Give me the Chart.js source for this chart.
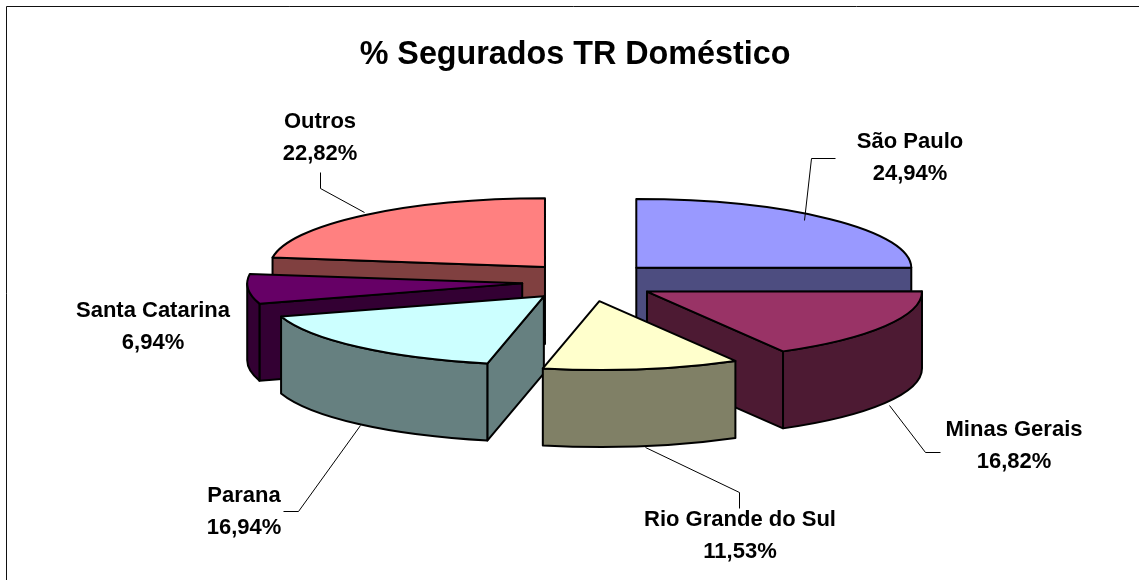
<!DOCTYPE html>
<html>
<head>
<meta charset="utf-8">
<style>
html,body{margin:0;padding:0;background:#fff;overflow:hidden}
#wrap{position:relative;width:1139px;height:580px}
</style>
<script src="https://cdn.jsdelivr.net/npm/chart.js@4"></script>
</head>
<body>
<div id="wrap"><canvas id="c" width="1139" height="580"></canvas></div>
<script>
const chartTitle = '% Segurados TR Doméstico';
const categories = ['São Paulo', 'Minas Gerais', 'Rio Grande do Sul', 'Parana', 'Santa Catarina', 'Outros'];
const shareValues = [24.94, 16.82, 11.53, 16.94, 6.94, 22.82];
const topColors = ['#9999FF', '#993366', '#FFFFCC', '#CCFFFF', '#660066', '#FF8080'];
const sideColors = ['#4D4D80', '#4D1A33', '#808066', '#668080', '#330033', '#804040'];

// Label annotation layout (pixels): text centre and leader polyline
const labelCentres = [[910, 158], [1014, 446], [740, 536], [244, 512], [153, 327], [320, 138]];
const leaderLines = [
  [[835, 158], [811, 158], [804, 220]],
  [[889, 405], [925, 452], [940, 452]],
  [[645, 447], [739, 492], [739, 508]],
  [[360, 425], [298, 511], [283, 511]],
  null,
  [[320, 172], [320, 188], [364, 212]]
];

const pieStyle = { radius: 275, squash: 0.25, explodeSquash: 0.293, depth: 77, explode: 67, shiftX: 14, edge: 2 };
const labelFont = 'bold 22px "Liberation Sans", Arial, sans-serif';

const pie3d = {
  id: 'pie3d',
  beforeDatasetDraw() { return false; },
  afterDatasetsDraw(chart) {
    const ctx = chart.ctx;
    const s = pieStyle;
    const arcs = chart.getDatasetMeta(0).data;
    const parts = arcs.map((el, i) => {
      const p = el.getProps(['x', 'y', 'startAngle', 'endAngle', 'outerRadius'], true);
      const mid = (p.startAngle + p.endAngle) / 2;
      return {
        i, a0: p.startAngle, a1: p.endAngle, r: p.outerRadius,
        cx: p.x + s.shiftX + s.explode * Math.cos(mid),
        cy: p.y + s.explode * Math.sin(mid) * s.explodeSquash
      };
    }).sort((a, b) => a.cy - b.cy);

    ctx.save();
    ctx.lineWidth = s.edge;
    ctx.lineJoin = 'round';
    ctx.strokeStyle = '#000';
    for (const q of parts) {
      const ry = q.r * s.squash;
      const rim = t => [q.cx + q.r * Math.cos(t), q.cy + ry * Math.sin(t)];
      ctx.fillStyle = sideColors[q.i];
      const face = t => {
        const [x, y] = rim(t);
        ctx.beginPath();
        ctx.moveTo(q.cx, q.cy);
        ctx.lineTo(x, y);
        ctx.lineTo(x, y + s.depth);
        ctx.lineTo(q.cx, q.cy + s.depth);
        ctx.closePath();
        ctx.fill();
        ctx.stroke();
      };
      if (Math.cos(q.a0) < 0) face(q.a0);
      if (Math.cos(q.a1) > 0) face(q.a1);
      const lo = Math.max(q.a0, 0), hi = Math.min(q.a1, Math.PI);
      if (lo < hi) {
        ctx.beginPath();
        ctx.ellipse(q.cx, q.cy, q.r, ry, 0, lo, hi);
        ctx.ellipse(q.cx, q.cy + s.depth, q.r, ry, 0, hi, lo, true);
        ctx.closePath();
        ctx.fill();
        ctx.stroke();
      }
      ctx.fillStyle = topColors[q.i];
      ctx.beginPath();
      ctx.moveTo(q.cx, q.cy);
      ctx.ellipse(q.cx, q.cy, q.r, ry, 0, q.a0, q.a1);
      ctx.closePath();
      ctx.fill();
      ctx.stroke();
    }

    ctx.lineWidth = 1;
    ctx.strokeStyle = '#000';
    leaderLines.forEach(line => {
      if (!line) return;
      ctx.beginPath();
      line.forEach(([x, y], k) => k ? ctx.lineTo(x + 0.5, y + 0.5) : ctx.moveTo(x + 0.5, y + 0.5));
      ctx.stroke();
    });

    ctx.fillStyle = '#000';
    ctx.font = labelFont;
    ctx.textAlign = 'center';
    ctx.textBaseline = 'middle';
    categories.forEach((name, i) => {
      const [x, y] = labelCentres[i];
      ctx.fillText(name, x, y - 16);
      ctx.fillText(shareValues[i].toFixed(2).replace('.', ',') + '%', x, y + 16);
    });

    ctx.lineWidth = 1;
    ctx.strokeStyle = '#111';
    ctx.strokeRect(6.5, 6.5, chart.width + 20, chart.height + 20);
    ctx.restore();
  }
};

new Chart(document.getElementById('c'), {
  type: 'pie',
  data: {
    labels: categories,
    datasets: [{ data: shareValues, backgroundColor: topColors, borderColor: '#000', borderWidth: 2 }]
  },
  options: {
    responsive: false,
    animation: false,
    radius: pieStyle.radius,
    layout: { padding: { left: 11, right: 0, top: 0, bottom: 91.2 } },
    plugins: {
      legend: { display: false },
      tooltip: { enabled: false },
      title: {
        display: true,
        text: chartTitle,
        color: '#000',
        font: { family: '"Liberation Sans", Arial, sans-serif', size: 32.3, weight: 'bold' },
        padding: { top: 36, bottom: 0 }
      }
    }
  },
  plugins: [pie3d]
});
</script>
</body>
</html>
